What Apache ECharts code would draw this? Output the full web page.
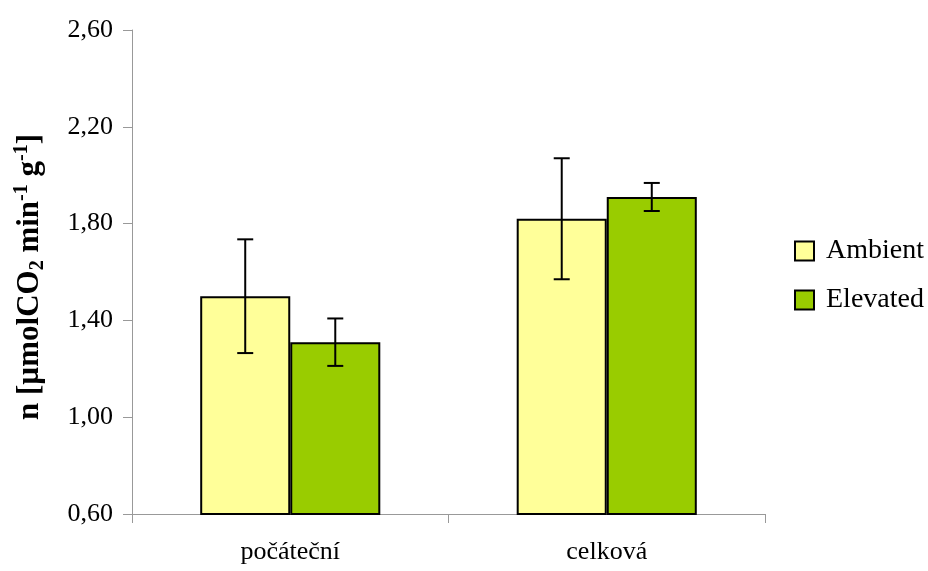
<!DOCTYPE html>
<html>
<head>
<meta charset="utf-8">
<script src="https://cdn.jsdelivr.net/npm/echarts@6/dist/echarts.min.js"></script>
<style>
  html, body { margin: 0; padding: 0; background: #fff; }
  #chart { width: 928px; height: 571px; }
</style>
</head>
<body>
<div id="chart"></div>
<script>
// Respiration rates per measurement type, with standard deviations
const categories = ['počáteční', 'celková'];
const seriesNames = ['Ambient', 'Elevated'];
const ambientValues = [1.50, 1.82];
const elevatedValues = [1.31, 1.91];
const ambientErrors = [0.235, 0.25];
const elevatedErrors = [0.098, 0.058];
const yTicks = [0.60, 1.00, 1.40, 1.80, 2.20, 2.60];

const colors = ['#FFFF99', '#99CC00'];
const fontFamily = '"Liberation Serif", "Times New Roman", serif';
const categoryGap = 0.431;

const chart = echarts.init(document.getElementById('chart'));

// Whisker drawing for one series; seriesIdx picks left/right bar in the group
function errorRenderer(seriesIdx) {
  return function (params, api) {
    const catIdx = api.value(0);
    const mean = api.value(1);
    const err = api.value(2);
    const band = api.size([1, 0])[0];
    const barW = band * (1 - categoryGap) / 2;
    const center = api.coord([catIdx, mean]);
    const x = center[0] + (seriesIdx === 0 ? -barW / 2 : barW / 2);
    const top = api.coord([catIdx, mean + err])[1];
    const bottom = api.coord([catIdx, mean - err])[1];
    const cap = 8;
    const style = { stroke: '#000', lineWidth: 2 };
    return {
      type: 'group',
      children: [
        { type: 'line', shape: { x1: x, y1: top, x2: x, y2: bottom }, style },
        { type: 'line', shape: { x1: x - cap, y1: top, x2: x + cap, y2: top }, style },
        { type: 'line', shape: { x1: x - cap, y1: bottom, x2: x + cap, y2: bottom }, style }
      ]
    };
  };
}

function errData(values, errors) {
  return values.map((v, i) => [i, v, errors[i]]);
}

chart.setOption({
  animation: false,
  backgroundColor: '#fff',
  grid: { left: 132, right: 163, top: 30, bottom: 57, containLabel: false },
  legend: {
    data: seriesNames,
    orient: 'vertical',
    left: 794,
    top: 237,
    padding: 0,
    itemWidth: 19,
    itemHeight: 19,
    itemGap: 21,
    icon: 'rect',
    itemStyle: { borderColor: '#000', borderWidth: 2 },
    textStyle: { fontFamily, fontSize: 28, color: '#000', padding: [0, 0, 0, 7] }
  },
  xAxis: {
    type: 'category',
    data: categories,
    axisLine: { lineStyle: { color: '#999', width: 1 } },
    axisTick: { show: true, length: 9, lineStyle: { color: '#999' } },
    axisLabel: { fontFamily, fontSize: 26, color: '#000', margin: 25 }
  },
  yAxis: {
    type: 'value',
    min: yTicks[0],
    max: yTicks[yTicks.length - 1],
    interval: 0.40,
    splitLine: { show: false },
    axisLine: { show: true, lineStyle: { color: '#999', width: 1 } },
    axisTick: { show: true, length: 9, lineStyle: { color: '#999' } },
    axisLabel: {
      fontFamily, fontSize: 26, color: '#000', margin: 19,
      formatter: v => v.toFixed(2).replace('.', ',')
    },
    name: '{b|n [µmolCO}{sub|2}{b| min}{sup|-1}{b| g}{sup|-1}{b|]}',
    nameLocation: 'middle',
    nameRotate: 90,
    nameGap: 84,
    nameTextStyle: {
      fontFamily, fontWeight: 'bold', color: '#000',
      padding: [0, 10, 0, 0],
      rich: {
        b: { fontFamily, fontSize: 31, fontWeight: 'bold', color: '#000', lineHeight: 36, verticalAlign: 'middle' },
        sup: { fontFamily, fontSize: 20, fontWeight: 'bold', color: '#000', lineHeight: 36, verticalAlign: 'top' },
        sub: { fontFamily, fontSize: 20, fontWeight: 'bold', color: '#000', lineHeight: 32, verticalAlign: 'bottom' }
      }
    }
  },
  series: [
    {
      name: seriesNames[0],
      type: 'bar',
      data: ambientValues,
      barGap: '0%',
      barCategoryGap: (categoryGap * 100) + '%',
      itemStyle: { color: colors[0], borderColor: '#000', borderWidth: 2 }
    },
    {
      name: seriesNames[1],
      type: 'bar',
      data: elevatedValues,
      barGap: '0%',
      barCategoryGap: (categoryGap * 100) + '%',
      itemStyle: { color: colors[1], borderColor: '#000', borderWidth: 2 }
    },
    {
      type: 'custom',
      renderItem: errorRenderer(0),
      data: errData(ambientValues, ambientErrors),
      encode: { x: 0, y: 1 },
      z: 10
    },
    {
      type: 'custom',
      renderItem: errorRenderer(1),
      data: errData(elevatedValues, elevatedErrors),
      encode: { x: 0, y: 1 },
      z: 10
    }
  ]
});
</script>
</body>
</html>
